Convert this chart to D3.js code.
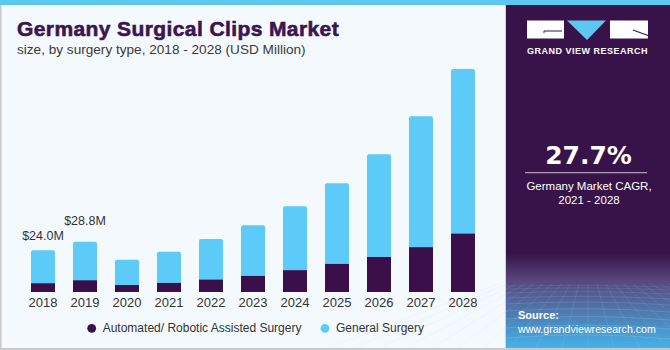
<!DOCTYPE html>
<html>
<head>
<meta charset="utf-8">
<script src="https://cdn.jsdelivr.net/npm/d3@7"></script>
<style>
    body { margin: 0; padding: 0; background: #ffffff; }
    svg { display: block; font-family: "Liberation Sans", Arial, sans-serif; }
</style>
</head>
<body>
<svg class="BarChart" width="670" height="350"></svg>
<script>
// values (USD Million)
var years = [2018, 2019, 2020, 2021, 2022, 2023, 2024, 2025, 2026, 2027, 2028];
var automated = [5.0, 6.7, 4.0, 5.2, 7.1, 9.2, 12.5, 16.1, 20.1, 25.7, 33.5];
var general = [19.0, 22.1, 14.5, 17.9, 23.3, 29.1, 36.7, 46.3, 58.9, 75.2, 94.5];
var seriesNames = ["Automated/ Robotic Assisted Surgery", "General Surgery"];
var valueLabels = [
    { year: 2018, text: "$24.0M", dy: -10 },
    { year: 2019, text: "$28.8M", dy: -17 }
];
var cagrText = "27.7%";
var cagrLabel = ["Germany Market CAGR,", "2021 - 2028"];

var metaForBarChart = {};

function renderBarChart()
{
    metaForBarChart['width'] = 670;
    metaForBarChart['height'] = 350;
    const colors = {
        'dark' : '#3a0f4a',
        'light' : '#5ccbf7',
        'title' : '#3b1550',
        'panel' : '#381349',
        'bg' : '#f4f9fd'
    };
    var svg = d3.select(".BarChart");

    // background + frame
    svg.append('rect')
        .attr('x', 0).attr('y', 0)
        .attr('width', 670).attr('height', 350)
        .attr('fill', colors.bg);
    svg.append('rect')
        .attr('x', 0).attr('y', 0)
        .attr('width', 1.5).attr('height', 350)
        .attr('fill', '#c8c8c8');
    svg.append('rect')
        .attr('x', 0).attr('y', 348)
        .attr('width', 670).attr('height', 2)
        .attr('fill', '#c8c8c8');

    drawPanel(svg, colors);

    svg.append('rect')
        .attr('x', 0).attr('y', 0)
        .attr('width', 670).attr('height', 5)
        .attr('fill', '#5cc8f0');

    // titles
    svg.append('text')
        .attr('x', 17)
        .attr('y', 35.5)
        .attr('font-size', 21)
        .attr('font-weight', 'bold')
        .attr('letter-spacing', 0.4)
        .attr('fill', colors.title)
        .attr('stroke', colors.title)
        .attr('stroke-width', 0.6)
        .text("Germany Surgical Clips Market");
    svg.append('text')
        .attr('x', 17)
        .attr('y', 53.5)
        .attr('font-size', 13.6)
        .attr('fill', '#3a3a3a')
        .text("size, by surgery type, 2018 - 2028 (USD Million)");

    const xScale = d3.scaleBand()
        .range([22, 484])
        .domain(years)
        .paddingInner(18 / 42)
        .paddingOuter(9 / 42);

    const yScale = d3.scaleLinear()
        .range([292, 69])
        .domain([0, 128]);

    var state = years.map((y, i) => ({
        'year' : y,
        'auto' : automated[i],
        'general' : general[i],
        'total' : automated[i] + general[i]
    }));

    var g = svg.append('g').attr('class', 'bars');

    g.selectAll('.gen')
        .data(state)
        .enter()
        .append('rect')
        .attr('class', 'gen')
        .attr('x', d => xScale(d.year))
        .attr('width', xScale.bandwidth())
        .attr('y', d => yScale(d.total))
        .attr('height', d => yScale(d.auto) - yScale(d.total) + 3)
        .attr('rx', 2)
        .attr('fill', colors.light);

    g.selectAll('.auto')
        .data(state)
        .enter()
        .append('rect')
        .attr('class', 'auto')
        .attr('x', d => xScale(d.year))
        .attr('width', xScale.bandwidth())
        .attr('y', d => yScale(d.auto))
        .attr('height', d => yScale(0) - yScale(d.auto))
        .attr('fill', colors.dark);

    // x axis, labels only
    var xAxis = svg.append('g')
        .attr('class', 'x-axis')
        .attr('transform', `translate(0, ${yScale(0)})`)
        .call(d3.axisBottom(xScale).tickSize(0).tickPadding(0));
    xAxis.select('.domain').remove();
    xAxis.selectAll('.tick text')
        .attr('y', 15)
        .attr('dy', 0)
        .attr('font-size', 13)
        .attr('font-family', '"Liberation Sans", Arial, sans-serif')
        .attr('fill', '#333333');

    // value annotations
    svg.selectAll('.value-label')
        .data(valueLabels)
        .enter()
        .append('text')
        .attr('class', 'value-label')
        .attr('x', d => xScale(d.year) + xScale.bandwidth() / 2)
        .attr('y', d => {
            var s = state.find(e => e.year == d.year);
            return yScale(s.total) + d.dy;
        })
        .attr('text-anchor', 'middle')
        .attr('font-size', 12.5)
        .attr('fill', '#333333')
        .text(d => d.text);

    // legend
    var legend = svg.append('g').attr('class', 'legend');
    var legendPos = [91.7, 325];
    var legendColors = [colors.dark, colors.light];
    seriesNames.forEach((name, i) => {
        legend.append('circle')
            .attr('cx', legendPos[i])
            .attr('cy', 328.3)
            .attr('r', 4.4)
            .attr('fill', legendColors[i]);
        legend.append('text')
            .attr('x', legendPos[i] + 11)
            .attr('y', 332.3)
            .attr('font-size', 12)
            .attr('fill', '#333333')
            .text(name);
    });
}

function drawPanel(svg, colors)
{
    var defs = svg.append('defs');
    var grad = defs.append('linearGradient')
        .attr('id', 'panelGrad')
        .attr('x1', 0).attr('y1', 0)
        .attr('x2', 0).attr('y2', 1);
    grad.append('stop').attr('offset', '0%').attr('stop-color', colors.panel);
    grad.append('stop').attr('offset', '73%').attr('stop-color', colors.panel);
    grad.append('stop').attr('offset', '80%').attr('stop-color', '#564479');
    grad.append('stop').attr('offset', '100%').attr('stop-color', '#45b2e8');

    svg.append('rect')
        .attr('x', 505)
        .attr('y', 0)
        .attr('width', 1)
        .attr('height', 350)
        .attr('fill', '#d0d4da');
    svg.append('rect')
        .attr('x', 506)
        .attr('y', 0)
        .attr('width', 164)
        .attr('height', 348)
        .attr('fill', 'url(#panelGrad)');

    // faint mesh in the bottom of the panel
    var mesh = svg.append('g')
        .attr('stroke', '#b8d4f0')
        .attr('stroke-width', 0.6)
        .attr('fill', 'none');
    var rows = [286, 289, 293, 298, 304, 311, 319, 328, 338];
    rows.forEach((y, i) => {
        mesh.append('path')
            .attr('d', `M506,${y} Q588,${y - 2 - i * 0.6} 670,${y + 1}`)
            .attr('opacity', 0.18 + i * 0.03);
    });
    d3.range(-10, 11).forEach(k => {
        mesh.append('line')
            .attr('x1', 588 + k * 9).attr('y1', 284)
            .attr('x2', 588 + k * 26).attr('y2', 348)
            .attr('opacity', 0.22);
    });

    // logo
    var logo = svg.append('g').attr('class', 'logo');
    logo.append('rect')
        .attr('x', 527).attr('y', 20.5)
        .attr('width', 37).attr('height', 18)
        .attr('fill', '#ffffff');
    logo.append('path')
        .attr('d', 'M567,20.5 L606,20.5 L587,40 Z')
        .attr('fill', '#5cc8f0');
    logo.append('rect')
        .attr('x', 610).attr('y', 20.5)
        .attr('width', 38).attr('height', 18)
        .attr('fill', '#ffffff');
    logo.append('path')
        .attr('d', 'M544,33 L544,31 L562,31')
        .attr('stroke', colors.panel)
        .attr('stroke-width', 1)
        .attr('fill', 'none');
    logo.append('path')
        .attr('d', 'M633,30 L648,35.5')
        .attr('stroke', colors.panel)
        .attr('stroke-width', 1.2)
        .attr('fill', 'none');
    logo.append('text')
        .attr('x', 587.5)
        .attr('y', 53.5)
        .attr('text-anchor', 'middle')
        .attr('font-size', 9)
        .attr('font-weight', 'bold')
        .attr('letter-spacing', 0.5)
        .attr('fill', '#ffffff')
        .text("GRAND VIEW RESEARCH");

    // CAGR block
    svg.append('text')
        .attr('x', 588.5)
        .attr('y', 163.5)
        .attr('text-anchor', 'middle')
        .attr('font-family', '"DejaVu Sans", sans-serif')
        .attr('font-size', 25)
        .attr('font-weight', 'bold')
        .attr('fill', '#ffffff')
        .text(cagrText);
    svg.append('line')
        .attr('x1', 525).attr('x2', 647)
        .attr('y1', 172.7).attr('y2', 172.7)
        .attr('stroke', '#c9bfd0')
        .attr('stroke-width', 1);
    cagrLabel.forEach((t, i) => {
        svg.append('text')
            .attr('x', 589)
            .attr('y', 190 + i * 14.3)
            .attr('text-anchor', 'middle')
            .attr('font-size', 11.5)
            .attr('fill', '#ffffff')
            .text(t);
    });

    svg.append('text')
        .attr('x', 518)
        .attr('y', 319)
        .attr('font-size', 11)
        .attr('font-weight', 'bold')
        .attr('fill', '#ffffff')
        .text("Source:");
    svg.append('text')
        .attr('x', 518)
        .attr('y', 332.7)
        .attr('font-size', 10.6)
        .attr('fill', '#ffffff')
        .text("www.grandviewresearch.com");
}

renderBarChart();
</script>
</body>
</html>
